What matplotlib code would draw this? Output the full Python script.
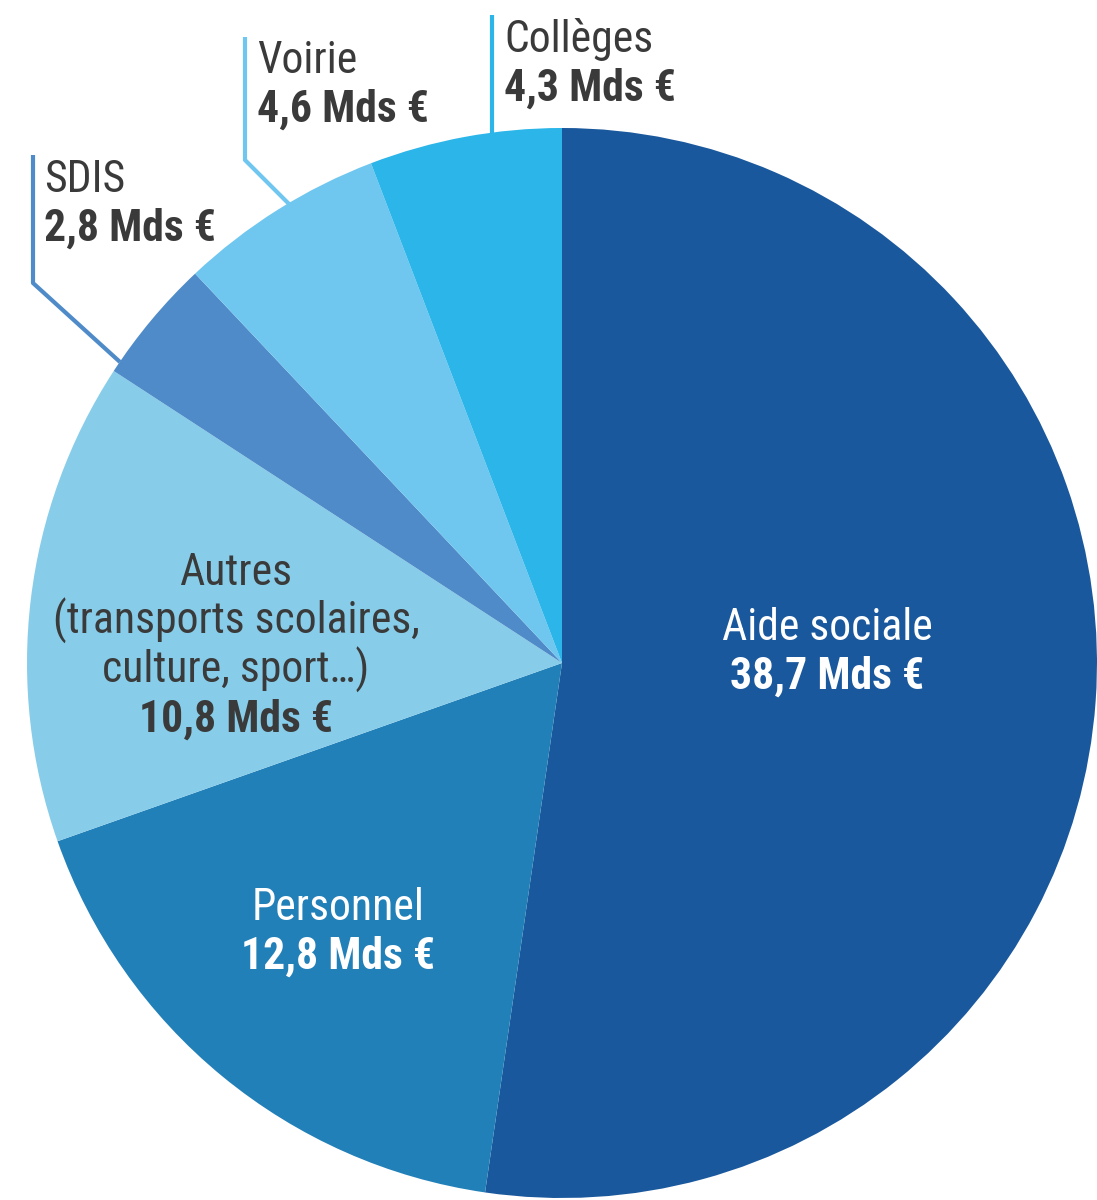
import matplotlib
matplotlib.use("Agg")
import matplotlib.pyplot as plt
import numpy as np

plt.rcParams['font.family'] = ['Roboto Condensed', 'DejaVu Sans']

# data
categories = ["Aide sociale", "Personnel", "Autres", "SDIS", "Voirie", "Collèges"]
values = [38.7, 12.8, 10.8, 2.8, 4.6, 4.3]
value_labels = ["38,7 Mds €", "12,8 Mds €", "10,8 Mds €", "2,8 Mds €", "4,6 Mds €", "4,3 Mds €"]
colors = ["#1a589d", "#2280b9", "#87cdea", "#4f8bc8", "#6fc7f0", "#2bb5e9"]

W, H = 1097, 1200
CX, CY, R = 562, 663, 535


def px(x, y):
    # pixel position of the reference -> data coords (radius 1)
    return (x - CX) / R, (CY - y) / R


fig = plt.figure(figsize=(W / 100, H / 100), dpi=100)
ax = fig.add_axes([0, 0, 1, 1])
ax.pie(values, colors=colors, startangle=90, counterclock=False, radius=1,
       wedgeprops=dict(linewidth=0))
ax.set_xlim(-CX / R, (W - CX) / R)
ax.set_ylim(-(H - CY) / R, CY / R)
ax.set_aspect("equal")
ax.axis("off")

dark = "#3a3a3a"
fs = 31.5


def label(x, y, lines, color, ha="center"):
    for k, (txt, bold) in enumerate(lines):
        xx, yy = px(x, y + k * 49)
        ax.text(xx, yy, txt, ha=ha, va="baseline", fontsize=fs, color=color,
                fontweight="bold" if bold else "normal")


label(827, 640, [(categories[0], False), (value_labels[0], True)], "white")
label(338, 920, [(categories[1], False), (value_labels[1], True)], "white")
label(236, 585, [(categories[2], False), ("(transports scolaires,", False),
                 ("culture, sport…)", False), (value_labels[2], True)], dark)
label(44, 192, [(categories[3], False), (value_labels[3], True)], dark, ha="left")
label(257, 73, [(categories[4], False), (value_labels[4], True)], dark, ha="left")
label(504, 52, [(categories[5], False), (value_labels[5], True)], dark, ha="left")

# leader lines
leaders = [
    ([120, 33, 33], [362, 283, 155], colors[3]),
    ([290, 245, 245], [205, 160, 37], colors[4]),
    ([492, 492], [134, 15], colors[5]),
]
for xs, ys, c in leaders:
    pts = np.array([px(x, y) for x, y in zip(xs, ys)])
    ax.plot(pts[:, 0], pts[:, 1], color=c, lw=3, solid_capstyle="butt")

fig.savefig("out.png", dpi=100)
